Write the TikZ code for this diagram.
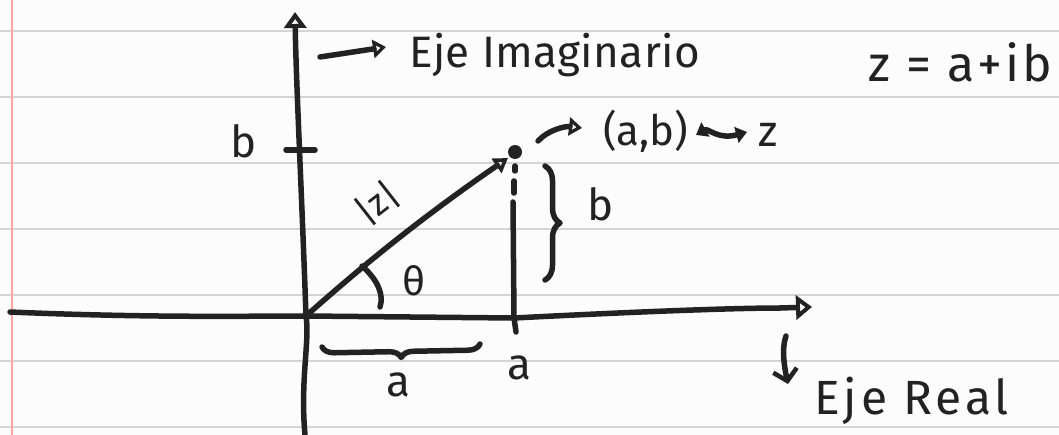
\documentclass[tikz,border=0pt]{standalone}
\usepackage{fontspec}
\setmainfont{Fira Sans}
\usetikzlibrary{arrows.meta,decorations.pathreplacing}
\definecolor{paper}{HTML}{FCFCFC}
\definecolor{rule}{HTML}{D4D4D4}
\definecolor{margin}{HTML}{FFA3A3}
\definecolor{ink}{HTML}{222222}
\tikzset{
  ink/.style={draw=ink,line width=5.5pt,line cap=round,line join=round},
  opentip/.style={-{Triangle[open,length=16pt,width=22pt,line width=4.5pt]}},
  smalltip/.style={-{Triangle[open,length=13pt,width=18pt,line width=4.5pt]}},
  lbl/.style={text=ink,font=\fontsize{44}{44}\selectfont,inner sep=0pt},
  wide/.style={text=ink,font=\fontsize{44}{44}\selectfont\addfontfeature{LetterSpace=8},inner sep=0pt},
}
\begin{document}
\begin{tikzpicture}[x=1pt,y=-1pt]
\useasboundingbox (0,0) rectangle (1059,435);
\fill[paper] (0,0) rectangle (1059,435);
% ruled paper
\foreach \yy in {31,97,163,229,295,361,427}
  \draw[rule,line width=2.5pt] (0,\yy) -- (1059,\yy);
\draw[margin,line width=2pt] (12,0) -- (12,435);

% coordinates
\coordinate (O) at (306,316);
\coordinate (xL) at (10,312);
\coordinate (xR) at (812,307);
\coordinate (yB) at (305,435);
\coordinate (yT) at (295,12);
\coordinate (ta) at (514,318);
\coordinate (ta2) at (516,332);
\coordinate (tb1) at (286,150);
\coordinate (tb2) at (315,150);
\coordinate (xR0) at (780,308);

% axes
\draw[ink] (xL) .. controls (150,318) and (250,316) .. (O) -- (ta) .. controls (650,311) and (740,308) .. (xR0);
\draw[ink,-{Triangle[open,length=16pt,width=24pt,line width=4.5pt]}] (xR0) -- (xR);
\draw[ink,opentip] (yB) .. controls (300,380) and (310,340) .. (O) .. controls (302,200) and (296,80) .. (yT);
% ticks
\draw[ink] (tb1) -- (tb2);
\draw[ink] (ta) -- (ta2);

% point and vector
\node[circle,fill=ink,inner sep=0pt,minimum size=14pt] (P) at (515,152) {};
\coordinate (Pv) at (508,158);
\draw[ink,-{Triangle[open,length=14pt,width=17pt,line width=4.5pt]}] (O) .. controls (380,250) and (440,205) .. (Pv);
% projection
\coordinate (Pd1) at (515,166);
\coordinate (Pd2) at (515,171);
\coordinate (Pd3) at (514,181);
\coordinate (Pd4) at (514,193);
\coordinate (Pd5) at (513,202);
\draw[ink] (Pd1) -- (Pd2);
\draw[ink] (Pd3) -- (Pd4);
\draw[ink] (Pd5) -- (ta);

% angle
\coordinate (A1) at (362,266);
\coordinate (A2) at (380,307);
\draw[ink] (A1) .. controls (378,280) and (384,295) .. (A2);
\node[lbl,font=\fontsize{40}{40}\selectfont] (theta) at (414,281) {θ};
\node[lbl,font=\fontsize{36}{36}\selectfont,rotate=38] (modz) at (377,203) {|z|};

% braces
\coordinate (bb1) at (545,166);
\coordinate (bb2) at (545,280);
\draw[ink,decorate,decoration={brace,amplitude=15pt}] (bb1) -- (bb2);
\node[lbl,anchor=base] (blab) at (601,221) {b};
\coordinate (ab1) at (480,344);
\coordinate (ab2) at (322,347);
\draw[ink,decorate,decoration={brace,amplitude=12pt}] (ab1) -- (ab2);
\node[lbl,anchor=base] (alab) at (398,396) {a};
\node[lbl,anchor=base] (alab2) at (519,379) {a};
\node[lbl,anchor=base] (blab2) at (244,158) {b};

% labels with arrows
\coordinate (ia1) at (320,57);
\coordinate (ia2) at (386,47);
\draw[ink,smalltip] (ia1) -- (ia2);
\node[lbl,anchor=base west,font=\fontsize{44}{44}\selectfont\addfontfeature{LetterSpace=1}] (imag) at (409,68) {Eje Imaginario};

\coordinate (pa1) at (538,141);
\coordinate (pa2) at (582,128);
\draw[ink,smalltip] (pa1) .. controls (548,130) and (565,126) .. (pa2);
\node[lbl,anchor=base west,font=\fontsize{42}{42}\selectfont] (ab) at (603,146) {(a,b)};
\coordinate (w1) at (696,135);
\coordinate (w2) at (747,132);
\draw[ink,{Triangle[length=11pt,width=16pt]}-{Triangle[length=11pt,width=16pt]}] (w1) .. controls (708,128) and (718,140) .. (w2);
\node[lbl,anchor=base west] (zz) at (758,147) {z};

\node[wide,anchor=base west,font=\fontsize{50}{50}\selectfont\addfontfeature{LetterSpace=6}] (zeq) at (868,82) {z = a+ib};

\coordinate (ra1) at (786,336);
\coordinate (ra2) at (788,384);
\draw[ink,-{Straight Barb[length=11pt,width=24pt,line width=4.5pt]}] (ra1) .. controls (781,350) and (785,370) .. (ra2);
\node[wide,anchor=base west,font=\fontsize{48}{48}\selectfont\addfontfeature{LetterSpace=8}] (real) at (814,414) {Eje Real};
\end{tikzpicture}
\end{document}
